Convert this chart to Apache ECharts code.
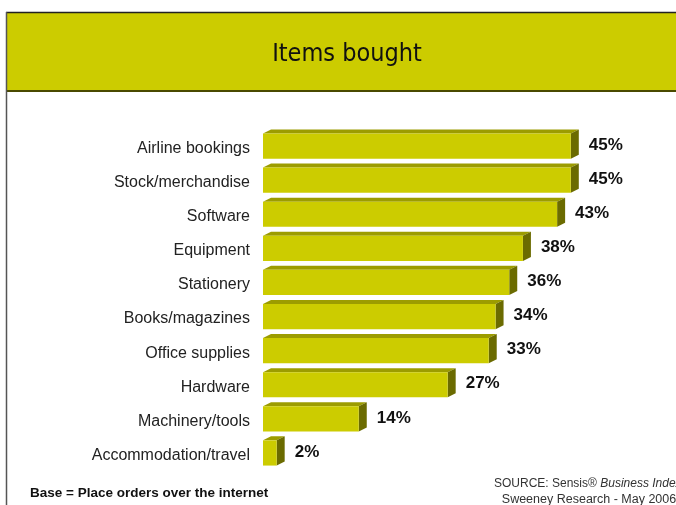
<!DOCTYPE html>
<html>
<head>
<meta charset="utf-8">
<script src="https://cdn.jsdelivr.net/npm/echarts@6/dist/echarts.min.js"></script>
<style>
  html, body { margin: 0; padding: 0; background: #fff; }
  #chart { width: 676px; height: 505px; }
</style>
</head>
<body>
<div id="chart"></div>
<script>
// Share of businesses buying each item type online
const categories = [
  'Airline bookings', 'Stock/merchandise', 'Software', 'Equipment', 'Stationery',
  'Books/magazines', 'Office supplies', 'Hardware', 'Machinery/tools', 'Accommodation/travel'
];
const percentages = [45, 45, 43, 38, 36, 34, 33, 27, 14, 2];

const titleText = 'Items bought';
const baseNote = 'Base = Place orders over the internet';
const sourceLine1 = 'SOURCE: Sensis\u00AE ';
const sourceItalic = 'Business Index';
const sourceLine2 = 'Sweeney Research - May 2006';

const FACE = '#cccc00';
const TOP = '#9c9c00';
const SIDE = '#6b6b00';
const DX = 8, DY = 4;

const chart = echarts.init(document.getElementById('chart'), null, { renderer: 'canvas' });

// 3D-looking bar: front face, top bevel and side face, category name and value label
function renderBar(params, api) {
  const idx = api.value(0);
  const v = api.value(1);
  const p0 = api.coord([0, idx]);
  const p1 = api.coord([v, idx]);
  const band = api.size([0, 1])[1];
  const h = band * 0.74;
  const x0 = p0[0], x1 = p1[0];
  const y0 = p0[1] - h / 2 + 1;
  return {
    type: 'group',
    children: [
      { type: 'polygon', shape: { points: [[x0, y0], [x0 + DX, y0 - DY], [x1 + DX, y0 - DY], [x1, y0]] },
        style: { fill: TOP } },
      { type: 'polygon', shape: { points: [[x1, y0], [x1 + DX, y0 - DY], [x1 + DX, y0 + h - DY], [x1, y0 + h]] },
        style: { fill: SIDE } },
      { type: 'rect', shape: { x: x0, y: y0, width: x1 - x0, height: h },
        style: { fill: FACE } },
      { type: 'text', x: x1 + DX + 10, y: p0[1],
        style: { text: v + '%', fill: '#111', font: 'bold 17px "Liberation Sans", Arial, sans-serif',
                 textAlign: 'left', textVerticalAlign: 'middle' } },
      { type: 'text', x: x0 - 13, y: p0[1] + 3.5,
        style: { text: categories[idx], fill: '#222', font: '16px "Liberation Sans", Arial, sans-serif',
                 textAlign: 'right', textVerticalAlign: 'middle' } }
    ]
  };
}

chart.setOption({
  backgroundColor: '#ffffff',
  animation: false,
  grid: { left: 263, right: 71, top: 128, bottom: 36, containLabel: false },
  xAxis: {
    type: 'value', min: 0, max: 50,
    show: false
  },
  yAxis: {
    type: 'category', data: categories, inverse: true,
    axisLine: { show: false }, axisTick: { show: false }, splitLine: { show: false },
    axisLabel: { show: false }
  },
  series: [{
    type: 'custom',
    renderItem: renderBar,
    encode: { x: 1, y: 0 },
    data: percentages.map((v, i) => [i, v])
  }],
  graphic: [
    // header band
    { type: 'rect', shape: { x: 6, y: 12, width: 680, height: 79 },
      style: { fill: FACE, stroke: null }, z: 1 },
    { type: 'line', shape: { x1: 6, y1: 12.5, x2: 676, y2: 12.5 },
      style: { stroke: '#222', lineWidth: 1.5 }, z: 2 },
    { type: 'line', shape: { x1: 6, y1: 91, x2: 676, y2: 91 },
      style: { stroke: '#4a4a00', lineWidth: 2 }, z: 2 },
    { type: 'line', shape: { x1: 6.5, y1: 12, x2: 6.5, y2: 505 },
      style: { stroke: '#555', lineWidth: 1.5 }, z: 2 },
    { type: 'text', x: 347, y: 54, z: 3,
      style: { text: titleText, fill: '#111', font: '25px "Liberation Sans Narrow", "DejaVu Sans Condensed", sans-serif',
               textAlign: 'center', textVerticalAlign: 'middle' } },
    // footer notes
    { type: 'text', x: 30, y: 493, z: 3,
      style: { text: baseNote, fill: '#111', font: 'bold 13.5px "Liberation Sans", Arial, sans-serif',
               textAlign: 'left', textVerticalAlign: 'middle' } },
    { type: 'text', x: 494, y: 484, z: 3,
      style: { text: '{a|' + sourceLine1 + '}{b|' + sourceItalic + '}',
               rich: {
                 a: { fill: '#333', font: '12px "Liberation Sans", Arial, sans-serif' },
                 b: { fill: '#333', font: 'italic 12px "Liberation Sans", Arial, sans-serif' }
               },
               textAlign: 'left', textVerticalAlign: 'middle' } },
    { type: 'text', x: 589, y: 500, z: 3,
      style: { text: sourceLine2, fill: '#333', font: '12.5px "Liberation Sans", Arial, sans-serif',
               textAlign: 'center', textVerticalAlign: 'middle' } }
  ]
});
</script>
</body>
</html>
